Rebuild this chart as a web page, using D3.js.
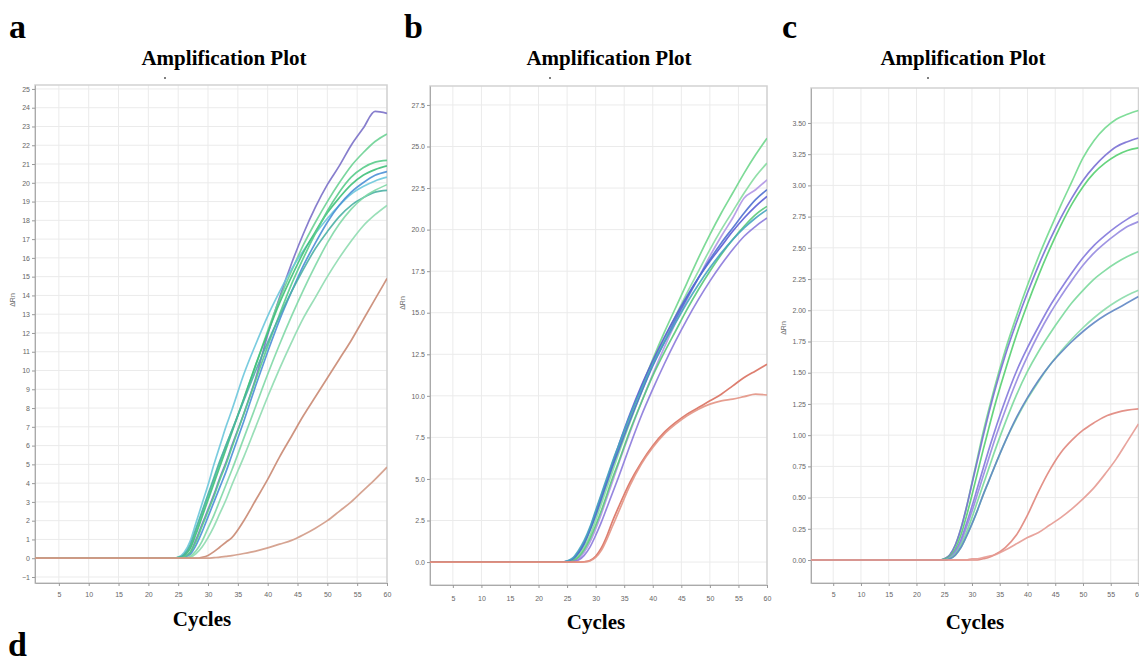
<!DOCTYPE html>
<html>
<head>
<meta charset="utf-8">
<script src="https://cdn.jsdelivr.net/npm/d3@7"></script>
<style>
  body { margin: 0; background: #fff; }
  svg { display: block; }
  .tick text { font-family: "Liberation Sans", Arial, sans-serif; font-size: 7px; fill: #666; }
  .tick line { stroke: #999; }
</style>
</head>
<body>
<svg id="fig" width="1139" height="660"></svg>
<script>
// sampled cycles (same for every curve)
const cycles = [1, 24, 25, 26, 27, 28, 29, 30, 31, 32, 33, 34, 36, 38, 40, 42, 44, 46, 48, 50, 52, 54, 56, 58, 60];
const cycleTicks = [5, 10, 15, 20, 25, 30, 35, 40, 45, 50, 55, 60];

// panel a: delta Rn
const a1 = [0,0,0,0.1,0.3,1.0,1.8,2.6,3.4,4.3,5.1,6.0,7.7,9.6,11.9,13.9,15.7,17.3,18.7,19.9,20.9,22.0,22.9,23.8,23.7];
const a2 = [0,0,0.05,0.2,0.6,1.5,2.4,3.3,4.2,5.1,6.0,6.8,8.5,10.3,12.1,13.8,15.3,16.7,17.9,19.0,20.0,20.9,21.6,22.2,22.6];
const a3 = [0,0,0.05,0.3,0.9,1.9,2.9,3.9,5.0,6.0,7.0,7.9,9.8,11.4,12.9,14.2,15.4,16.4,17.3,18.1,18.8,19.4,19.8,20.1,20.3];
const a4 = [0,0,0.03,0.15,0.5,1.3,2.2,3.1,4.0,4.9,5.8,6.7,8.5,10.3,12.0,13.6,15.0,16.3,17.4,18.4,19.2,19.9,20.4,20.7,20.9];
const a5 = [0,0,0,0.05,0.2,0.7,1.4,2.2,3.0,3.8,4.6,5.5,7.3,9.2,11.0,12.7,14.2,15.6,16.8,17.9,18.8,19.5,20.0,20.4,20.6];
const a6 = [0,0,0,0.08,0.3,0.9,1.7,2.5,3.3,4.2,5.0,5.9,7.7,9.5,11.3,13.0,14.6,16.0,17.3,18.5,19.5,20.3,20.8,21.1,21.2];
const a7 = [0,0,0.03,0.2,0.7,1.6,2.5,3.4,4.3,5.2,6.0,6.8,8.4,10.0,11.5,12.9,14.2,15.4,16.5,17.4,18.2,18.8,19.2,19.5,19.6];
const a8 = [0,0,0,0,0.1,0.4,0.9,1.6,2.3,3.1,3.9,4.7,6.4,8.1,9.8,11.4,12.9,14.3,15.6,16.8,17.8,18.6,19.2,19.6,19.9];
const a9 = [0,0,0,0,0.05,0.25,0.6,1.1,1.7,2.4,3.1,3.9,5.4,7.0,8.6,10.1,11.5,12.8,13.9,15.0,16.0,16.9,17.7,18.3,18.8];
const a10 = [0,0,0,0,0,0,0.05,0.15,0.35,0.6,0.85,1.1,2.0,3.1,4.2,5.4,6.5,7.6,8.6,9.6,10.6,11.6,12.7,13.8,14.9];
const a11 = [0,0,0,0,0,0,0,0,0.03,0.06,0.1,0.14,0.25,0.38,0.55,0.75,0.95,1.25,1.6,2.0,2.5,3.0,3.6,4.2,4.85];

// panel b
const b1 = [0,0,0.03,0.15,0.5,1.1,1.9,2.8,3.8,4.8,5.8,6.8,8.7,10.5,12.2,13.8,15.3,16.8,18.3,19.7,21.0,22.2,23.4,24.5,25.5];
const b2 = [0,0,0.02,0.12,0.4,0.9,1.6,2.5,3.5,4.5,5.5,6.5,8.4,10.2,11.9,13.4,14.8,16.2,17.5,18.8,20.0,21.1,22.2,23.2,24.0];
const b3 = [0,0,0,0.05,0.2,0.6,1.2,2.0,2.9,3.9,4.9,5.9,7.8,9.6,11.3,12.9,14.4,15.8,17.1,18.4,19.6,20.7,21.9,22.4,23.0];
const b4 = [0,0,0.05,0.2,0.6,1.2,2.0,3.0,4.0,5.0,6.0,7.0,8.9,10.6,12.1,13.5,14.8,16.0,17.1,18.1,19.0,19.9,20.7,21.4,22.0];
const b5 = [0,0,0.04,0.18,0.55,1.1,1.9,2.8,3.8,4.8,5.8,6.7,8.5,10.2,11.8,13.2,14.6,15.9,17.1,18.2,19.2,20.1,21.0,21.8,22.4];
const b6 = [0,0,0,0.08,0.3,0.75,1.4,2.2,3.1,4.1,5.1,6.0,7.9,9.6,11.2,12.6,13.9,15.2,16.4,17.5,18.5,19.4,20.2,20.9,21.4];
const b7 = [0,0,0,0.03,0.12,0.4,0.9,1.6,2.4,3.3,4.2,5.1,7.0,8.8,10.4,11.9,13.3,14.6,15.8,16.9,17.9,18.8,19.6,20.2,20.7];
const b8 = [0,0,0.06,0.25,0.7,1.3,2.1,3.1,4.1,5.1,6.1,7.0,8.8,10.4,11.9,13.2,14.4,15.6,16.7,17.7,18.6,19.4,20.1,20.7,21.2];
const b9 = [0,0,0,0,0,0.02,0.1,0.35,0.85,1.6,2.5,3.3,4.8,6.0,7.0,7.8,8.4,8.9,9.3,9.7,10.1,10.6,11.1,11.5,11.9];
const b10 = [0,0,0,0,0,0.01,0.07,0.28,0.7,1.4,2.2,3.0,4.6,5.9,6.9,7.7,8.3,8.8,9.2,9.5,9.7,9.8,9.95,10.1,10.05];

// panel c
const c1 = [0,0,0.01,0.04,0.12,0.25,0.42,0.62,0.82,1.02,1.2,1.37,1.68,1.95,2.2,2.43,2.64,2.84,3.03,3.22,3.36,3.46,3.53,3.57,3.6];
const c2 = [0,0,0.01,0.04,0.12,0.25,0.42,0.61,0.8,0.99,1.17,1.34,1.64,1.9,2.14,2.36,2.56,2.74,2.9,3.04,3.15,3.24,3.31,3.35,3.38];
const c3 = [0,0,0.005,0.03,0.09,0.2,0.35,0.52,0.7,0.88,1.05,1.22,1.52,1.8,2.05,2.28,2.49,2.68,2.85,2.99,3.1,3.18,3.24,3.28,3.3];
const c4 = [0,0,0,0.02,0.07,0.16,0.29,0.43,0.58,0.73,0.88,1.02,1.28,1.51,1.7,1.87,2.03,2.17,2.3,2.42,2.52,2.6,2.67,2.73,2.78];
const c5 = [0,0,0,0.015,0.06,0.14,0.26,0.39,0.53,0.67,0.81,0.95,1.2,1.43,1.63,1.81,1.97,2.11,2.24,2.36,2.46,2.54,2.61,2.67,2.71];
const c6 = [0,0,0,0.015,0.05,0.12,0.22,0.34,0.47,0.6,0.73,0.86,1.1,1.32,1.51,1.67,1.81,1.94,2.06,2.16,2.25,2.32,2.38,2.43,2.47];
const c7 = [0,0,0,0.01,0.04,0.1,0.19,0.29,0.4,0.52,0.63,0.74,0.95,1.13,1.29,1.43,1.56,1.67,1.77,1.86,1.94,2.01,2.07,2.12,2.16];
const c8 = [0,0,0,0.01,0.04,0.1,0.19,0.29,0.4,0.52,0.63,0.74,0.95,1.14,1.3,1.44,1.56,1.66,1.75,1.83,1.9,1.96,2.01,2.06,2.11];
const c9 = [0,0,0,0,0,0,0,0,0,0.01,0.02,0.04,0.1,0.2,0.36,0.55,0.72,0.86,0.96,1.04,1.1,1.15,1.18,1.2,1.21];
const c10 = [0,0,0,0,0,0,0,0.01,0.01,0.02,0.03,0.04,0.08,0.13,0.18,0.22,0.28,0.34,0.41,0.49,0.58,0.69,0.81,0.95,1.09];

const ticksA = [-1,0,1,2,3,4,5,6,7,8,9,10,11,12,13,14,15,16,17,18,19,20,21,22,23,24,25];
const ticksB = [0,2.5,5,7.5,10,12.5,15,17.5,20,22.5,25,27.5];
const ticksC = [0,0.25,0.5,0.75,1,1.25,1.5,1.75,2,2.25,2.5,2.75,3,3.25,3.5];

const colorsA = ['#7a70c8','#6cd294','#6cc6dc','#3fc07a','#4b8fd6','#58cc8a','#4bb0a4','#7fd8a6','#8fdcb0','#c98872','#d29a86'];
const colorsB = ['#6fd68c','#86dba0','#b096e4','#5a5cd4','#4f6fd0','#59c97a','#8b7adb','#46a5bf','#d9705f','#e39384'];
const colorsC = ['#72d98e','#7a70d4','#55cf70','#8378dc','#968ae0','#7bd99c','#8adcaa','#5f86c4','#e0867c','#e69a92'];

const svg = d3.select('#fig');

function drawPanel(p, series, colors) {
  const x = d3.scaleLinear().domain([1, 60]).range([p.left, p.right]);
  const y = d3.scaleLinear().domain([p.yMin, p.yMax]).range([p.bottom, p.top]);
  const g = svg.append('g');

  g.selectAll('line.hg').data(p.yTicks).enter().append('line')
    .attr('class', 'hg')
    .attr('x1', p.left).attr('x2', p.right)
    .attr('y1', d => y(d)).attr('y2', d => y(d))
    .attr('stroke', '#ebebeb');
  g.selectAll('line.vg').data(cycleTicks).enter().append('line')
    .attr('class', 'vg')
    .attr('x1', d => x(d)).attr('x2', d => x(d))
    .attr('y1', p.top).attr('y2', p.bottom)
    .attr('stroke', '#ebebeb');

  g.append('rect')
    .attr('x', p.left).attr('y', p.top)
    .attr('width', p.right - p.left).attr('height', p.bottom - p.top)
    .attr('fill', 'none').attr('stroke', '#d2d2d2').attr('stroke-width', 1.5);

  const ya = g.append('g')
    .attr('transform', 'translate(' + p.left + ',0)')
    .call(d3.axisLeft(y).tickValues(p.yTicks).tickFormat(p.fmt).tickSize(3).tickSizeOuter(0).tickPadding(2));
  ya.select('.domain').attr('stroke', '#aaa');

  const xa = g.append('g')
    .attr('transform', 'translate(0,' + p.bottom + ')')
    .call(d3.axisBottom(x).tickValues(cycleTicks).tickSize(3).tickSizeOuter(0).tickPadding(p.xPad));
  xa.select('.domain').attr('stroke', '#aaa');

  const clipId = 'clip' + p.id;
  svg.append('clipPath').attr('id', clipId)
    .append('rect')
    .attr('x', p.left).attr('y', p.top)
    .attr('width', p.right - p.left).attr('height', p.bottom - p.top);

  const line = d3.line()
    .x((d, i) => x(cycles[i]))
    .y(d => y(d))
    .curve(d3.curveMonotoneX);

  g.append('g').attr('clip-path', 'url(#' + clipId + ')')
    .selectAll('path')
    .data(series)
    .enter()
    .append('path')
    .attr('d', line)
    .attr('fill', 'none')
    .attr('stroke', (d, i) => colors[i])
    .attr('stroke-width', 1.7)
    .attr('stroke-opacity', 0.9);

  g.append('text')
    .attr('transform', 'translate(' + p.rnX + ',' + p.rnY + ') rotate(-90)')
    .attr('text-anchor', 'middle')
    .attr('font-family', 'Liberation Sans, Arial, sans-serif')
    .attr('font-size', '7px')
    .attr('fill', '#666')
    .text('\u0394Rn');

  g.append('text')
    .attr('x', p.titleX).attr('y', 65)
    .attr('text-anchor', 'middle')
    .attr('font-family', 'Liberation Serif, Times New Roman, serif')
    .attr('font-weight', 'bold')
    .attr('font-size', '21px')
    .text('Amplification Plot');

  g.append('line')
    .attr('x1', p.markX).attr('x2', p.markX + 2)
    .attr('y1', 78).attr('y2', 78)
    .attr('stroke', '#555').attr('stroke-width', 1.5);

  g.append('text')
    .attr('x', p.cycX).attr('y', p.cycY)
    .attr('text-anchor', 'middle')
    .attr('font-family', 'Liberation Serif, Times New Roman, serif')
    .attr('font-weight', 'bold')
    .attr('font-size', '21px')
    .text('Cycles');
}

drawPanel({ id: 'a', left: 35, right: 387, top: 85, bottom: 583, yMin: -1.32, yMax: 25.21,
  yTicks: ticksA, fmt: d3.format('d'), xPad: 6, rnX: 15, rnY: 300,
  titleX: 224, markX: 164, cycX: 202, cycY: 626 },
  [a1, a2, a3, a4, a5, a6, a7, a8, a9, a10, a11], colorsA);

drawPanel({ id: 'b', left: 430, right: 767, top: 86, bottom: 585, yMin: -1.38, yMax: 28.64,
  yTicks: ticksB, fmt: d3.format('.1f'), xPad: 8, rnX: 405, rnY: 303,
  titleX: 609, markX: 549, cycX: 596, cycY: 629 },
  [b1, b2, b3, b4, b5, b6, b7, b8, b9, b10], colorsB);

drawPanel({ id: 'c', left: 811, right: 1138.5, top: 88, bottom: 583, yMin: -0.184, yMax: 3.78,
  yTicks: ticksC, fmt: d3.format('.2f'), xPad: 6, rnX: 786, rnY: 328,
  titleX: 963, markX: 927, cycX: 975, cycY: 629 },
  [c1, c2, c3, c4, c5, c6, c7, c8, c9, c10], colorsC);

const letters = ['a', 'b', 'c', 'd'];
const letterX = [9, 404, 782, 8];
const letterY = [38, 38, 38, 656];
svg.selectAll('text.letter')
  .data(letters)
  .enter()
  .append('text')
  .attr('class', 'letter')
  .attr('x', (d, i) => letterX[i])
  .attr('y', (d, i) => letterY[i])
  .attr('font-family', 'Liberation Serif, Times New Roman, serif')
  .attr('font-weight', 'bold')
  .attr('font-size', '34px')
  .text(d => d);
</script>
</body>
</html>
